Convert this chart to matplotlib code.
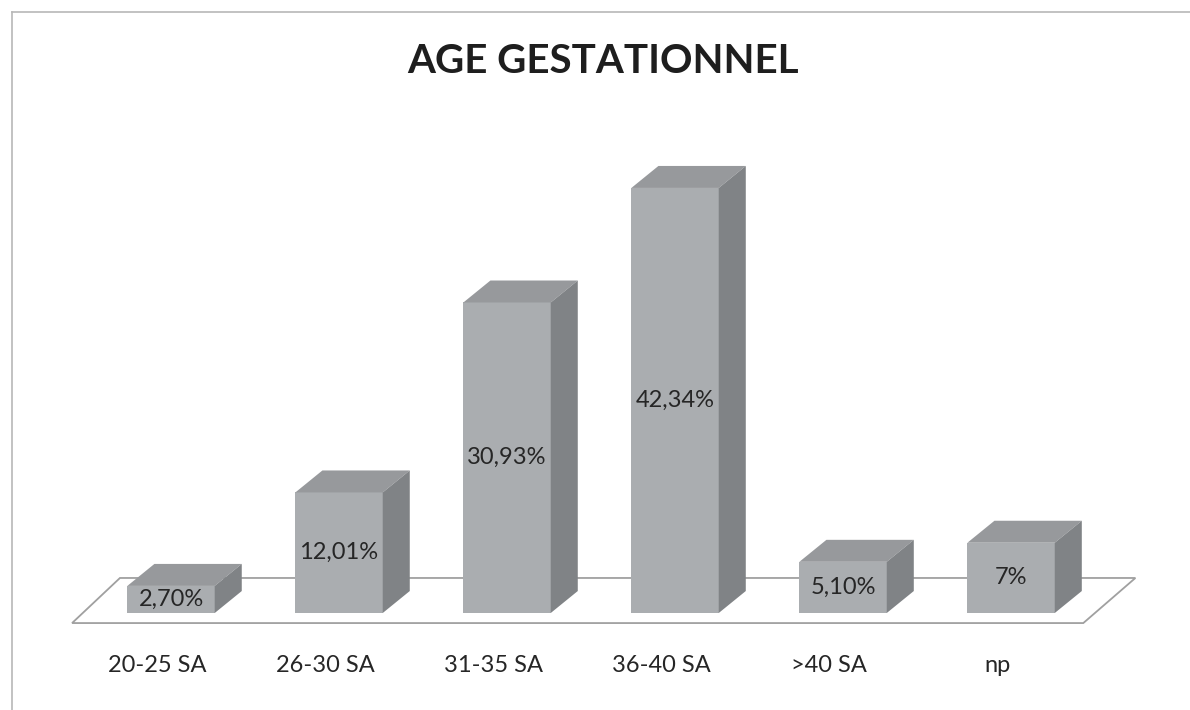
import matplotlib.pyplot as plt
from matplotlib.patches import Polygon

# %% data
categories = ['20-25 SA', '26-30 SA', '31-35 SA', '36-40 SA', '>40 SA', 'np']
values = [2.70, 12.01, 30.93, 42.34, 5.10, 7]
labels = ['2,70%', '12,01%', '30,93%', '42,34%', '5,10%', '7%']

# %% look of the fake 3D bars (units: category / percent)
bar_w = 0.52
dx, dy = 0.161, 2.19          # depth offset of the top/side faces
front_col = '#aaadb0'
top_col = '#97999c'
side_col = '#808386'
text_col = '#262626'

plt.rcParams['font.family'] = ['Lato', 'DejaVu Sans']

fig = plt.figure(figsize=(11.9, 7.1), dpi=100)
ax = fig.add_axes([0, 0, 1, 1])
ax.set_xlim(-1.018, 6.065)
ax.set_ylim(-9.66, 61.06)
ax.axis('off')

# frame lines of the scanned chart (top and left)
ax.plot([-0.946, 6.065], [59.87, 59.87], color='#b8b8b8', lw=1.2)
ax.plot([-0.946, -0.946], [-9.66, 59.87], color='#b8b8b8', lw=1.2)

# floor
n = len(categories)
fl, fr = -0.589, n - 0.57
floor = Polygon([(fl, -1.0), (fr, -1.0), (fr + 0.31, 3.49), (fl + 0.285, 3.49)],
                closed=True, facecolor='white', edgecolor='#a0a0a0', lw=1.3, zorder=1)
ax.add_patch(floor)

for i, (v, lab) in enumerate(zip(values, labels)):
    x0, x1 = i - bar_w / 2, i + bar_w / 2
    front = Polygon([(x0, 0), (x1, 0), (x1, v), (x0, v)], closed=True,
                    facecolor=front_col, edgecolor='none', zorder=3)
    top = Polygon([(x0, v), (x1, v), (x1 + dx, v + dy), (x0 + dx, v + dy)], closed=True,
                  facecolor=top_col, edgecolor='none', zorder=3)
    side = Polygon([(x1, 0), (x1 + dx, dy), (x1 + dx, v + dy), (x1, v)], closed=True,
                   facecolor=side_col, edgecolor='none', zorder=3)
    for p in (front, top, side):
        ax.add_patch(p)
    ax.text(i, v / 2, lab, ha='center', va='center', fontsize=17,
            color=text_col, zorder=4)
    ax.text(i - 0.083, -5.2, categories[i], ha='center', va='center',
            fontsize=17, color=text_col)

ax.text(2.57, 54.95, 'AGE GESTATIONNEL', ha='center', va='center',
        fontsize=29, fontweight='bold', color='#1e1e1e')

plt.savefig('out.png', dpi=100)
